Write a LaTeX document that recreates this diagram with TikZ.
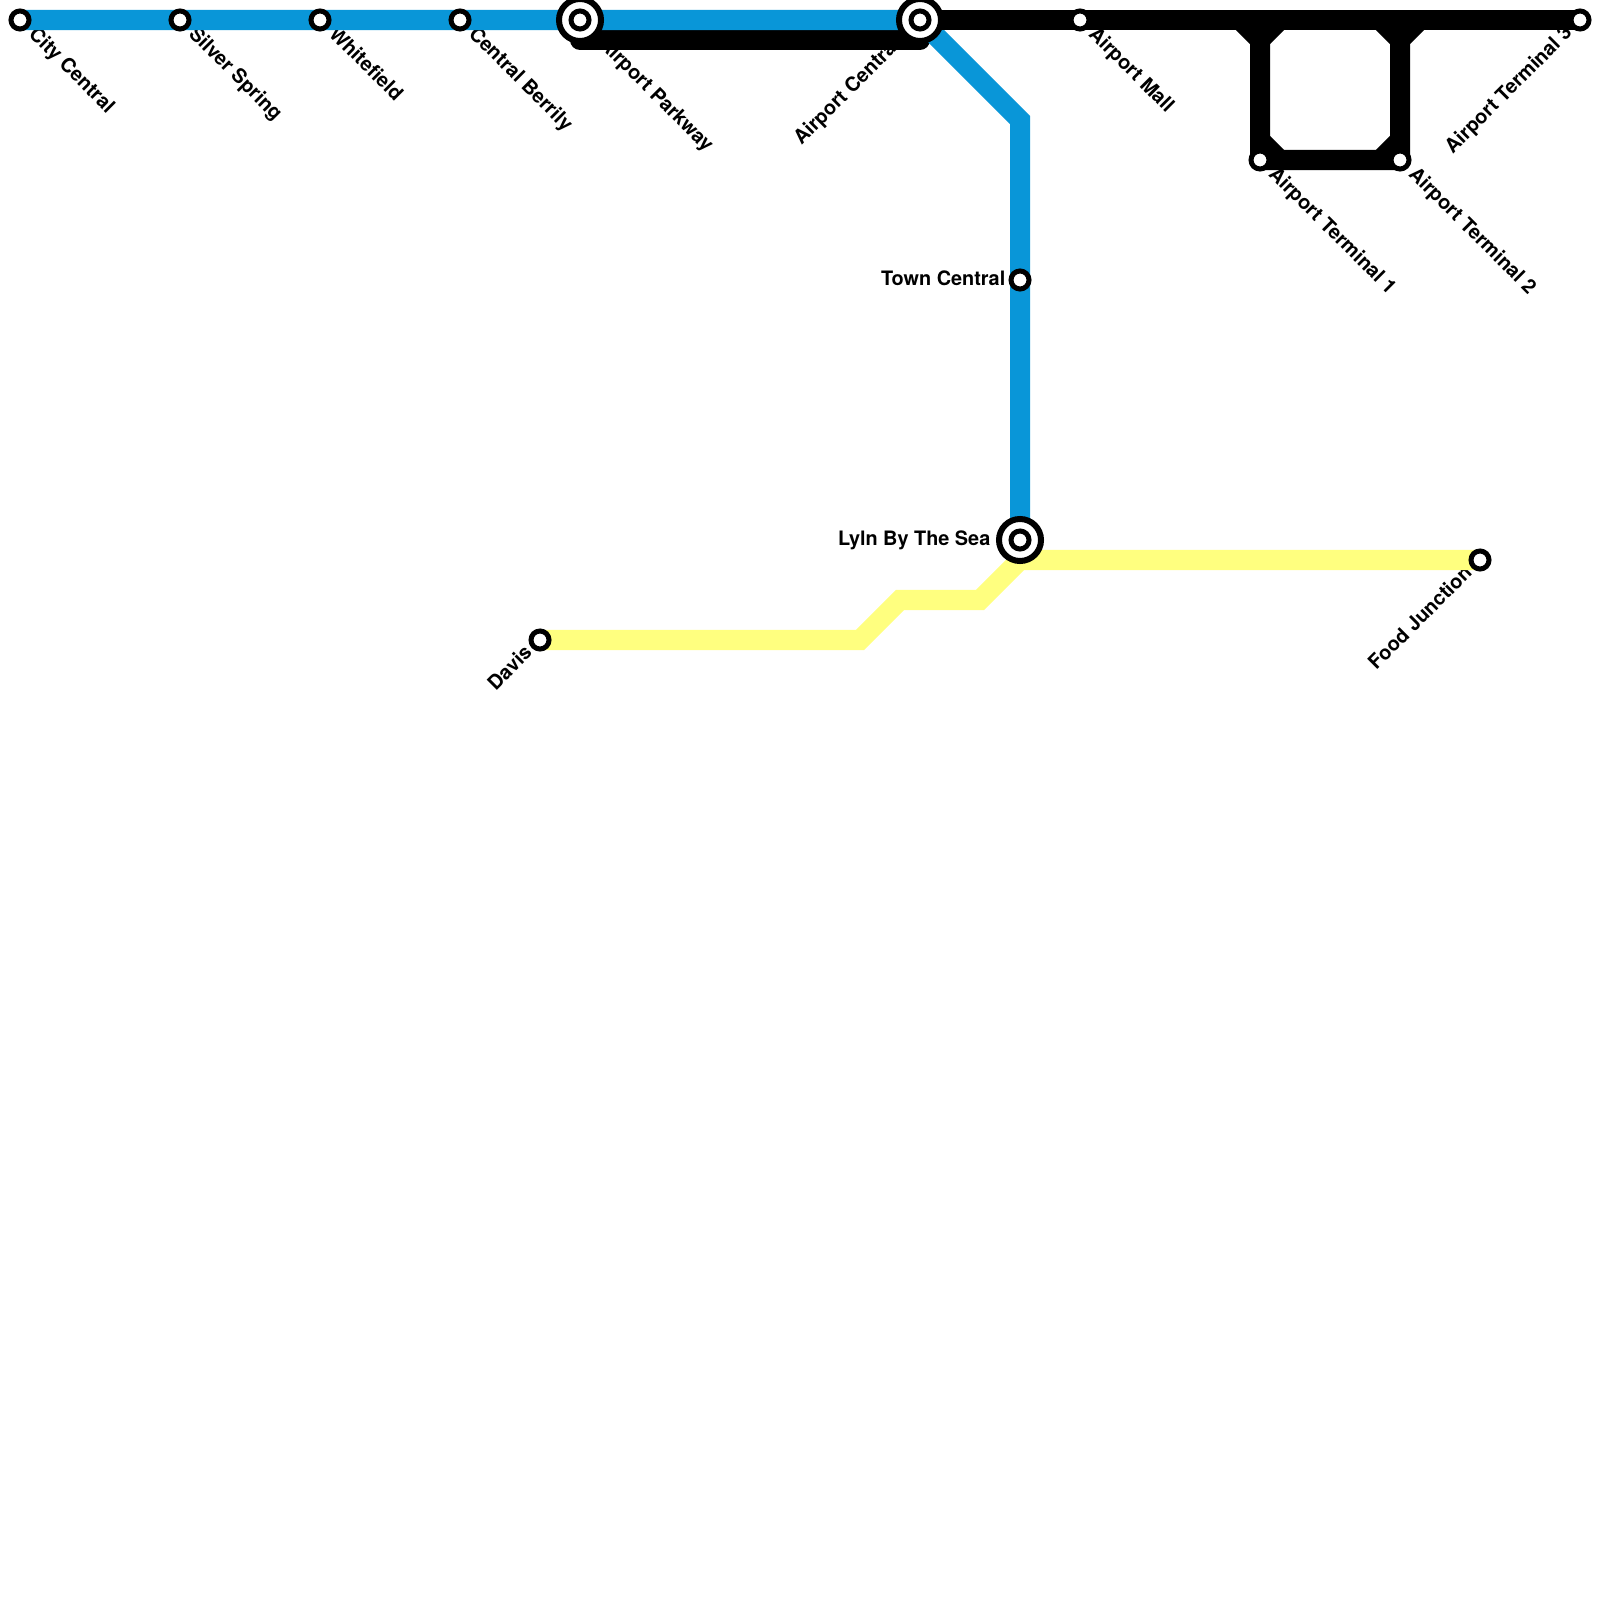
\documentclass[tikz,border=0pt]{standalone}
\usepackage{fontspec}
\setmainfont{TeX Gyre Heros}
\usetikzlibrary{backgrounds}
\definecolor{LineBlue}{RGB}{9,150,216}
\definecolor{LineYellow}{RGB}{255,255,127}
\tikzset{
  stop/.style={circle,draw=black,fill=white,line width=.05cm,minimum size=.18cm,inner sep=0},
  hub/.style={circle,draw=black,fill=white,line width=.06cm,minimum size=.42cm,inner sep=0},
  route/.style={line width=.2cm,miter limit=10},
  lbl/.style={font=\bfseries\fontsize{5.65}{6}\selectfont,inner sep=0,text=black,text height=.14cm,text depth=.04cm},
  lblse/.style={lbl,shift={(#1,#1)},rotate=-45,anchor=west},
  lblsw/.style={lbl,shift={(-#1,#1)},rotate=45,anchor=east},
  lblw/.style={lbl,shift={(-#1,0)},anchor=east},
}
\begin{document}
\begin{tikzpicture}[x=.01cm,y=-.01cm]
\useasboundingbox (0,0) rectangle (1600,1600);
% stations
\foreach \name/\x/\y in {city/20/20,silver/180/20,white/320/20,berrily/460/20,mall/1080/20,term1/1260/160,term2/1400/160,term3/1580/20,town/1020/280,food/1480/560,davis/540/640}
  \node[stop] (\name) at (\x,\y) {};
\foreach \name/\x/\y in {parkway/580/20,central/920/20,lyln/1020/540}{
  \node[hub] (\name) at (\x,\y) {};
  \node[stop] (\name dot) at (\x,\y) {};
}
\coordinate (parkwaylow) at (580,40);\coordinate (centrallow) at (920,40);
\coordinate (bendblue) at (1020,120);
\begin{scope}[on background layer]
% labels go under the lines
\foreach \name/\txt in {city/City Central,silver/Silver Spring,white/Whitefield,berrily/Central Berrily,mall/Airport Mall,term1/Airport Terminal 1,term2/Airport Terminal 2}
  \node[lblse=11] at (\name.center) {\txt};
\node[lblse=21] at (parkway.center) {Airport Parkway};
\node[lblsw=22] at (central.center) {Airport Central};
\foreach \name/\txt in {term3/Airport Terminal 3,food/Food Junction,davis/Davis}
  \node[lblsw=10] at (\name.center) {\txt};
\node[lblw=14] at (town.center) {Town Central};
\node[lblw=29] at (lyln.center) {Lyln By The Sea};
% lines
\draw[route,line cap=round] (parkwaylow)--(centrallow);
\draw[route,LineBlue] (city.center)--(central.center)--(bendblue)--(lyln.center);
\draw[route] (central.center)--(term3.center);
\draw[route,line join=round] (term1.center)++(-20,-140)--++(20,20)--(term1.center)--(term2.center)--++(0,-120)--++(20,-20);
\draw[route] (term1.center)++(20,-140)--++(-20,20);\draw[route] (term2.center)++(-20,-140)--++(20,20);
\draw[route] (term1.center)++(0,-20)--++(20,20);\draw[route] (term2.center)++(-20,0)--++(20,-20);
\draw[route,LineYellow] (davis.center)--(860,640)--(900,600)--(980,600)--(1020,560)--(food.center);
\end{scope}
\end{tikzpicture}
\end{document}
